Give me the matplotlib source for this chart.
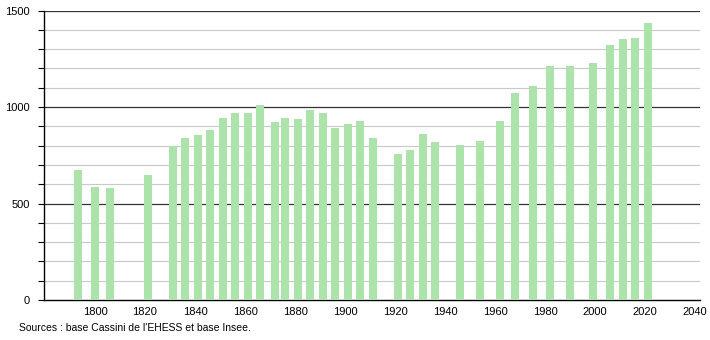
import matplotlib
matplotlib.use("Agg")
import matplotlib.pyplot as plt

plt.rcParams['font.family'] = ['Liberation Sans', 'DejaVu Sans']

years = [1793, 1800, 1806, 1821, 1831, 1836, 1841, 1846, 1851, 1856, 1861, 1866,
         1872, 1876, 1881, 1886, 1891, 1896, 1901, 1906, 1911, 1921, 1926, 1931,
         1936, 1946, 1954, 1962, 1968, 1975, 1982, 1990, 1999, 2006, 2011, 2016, 2021]
population = [673, 586, 579, 647, 798, 840, 853, 880, 943, 967, 967, 1008,
              922, 944, 936, 984, 967, 890, 911, 927, 839, 756, 777, 860,
              818, 803, 824, 929, 1072, 1111, 1212, 1212, 1226, 1320, 1352, 1357, 1433]
xticks = [1800, 1820, 1840, 1860, 1880, 1900, 1920, 1940, 1960, 1980, 2000, 2020, 2040]
yticks = [0, 500, 1000, 1500]

fig = plt.figure(figsize=(7.1, 3.4), dpi=100)
ax = fig.add_axes([0.062, 0.1176, 0.924, 0.8515])

ax.bar(years, population, width=3.2, color='#abe3ab', zorder=3)

# grid lines: light every 100, dark every 500
for v in range(100, 1501, 100):
    if v % 500 == 0:
        ax.axhline(v, color='#333333', lw=0.9, zorder=1)
    else:
        ax.axhline(v, color='#c8c8c8', lw=0.8, zorder=1)

ax.set_xlim(1779.6, 2042)
ax.set_ylim(0, 1500)
ax.set_xticks(xticks)
ax.set_yticks(yticks)
ax.set_yticks(range(0, 1501, 100), minor=True)
ax.tick_params(axis='x', length=0, labelsize=8, pad=5)
ax.tick_params(axis='y', which='both', length=4, width=0.8, labelsize=8, pad=6)

for s in ['top', 'right']:
    ax.spines[s].set_visible(False)
ax.spines['left'].set_linewidth(1.0)
ax.spines['bottom'].set_linewidth(1.0)

fig.text(0.027, 0.027, "Sources : base Cassini de l'EHESS et base Insee.", fontsize=7.5)

fig.savefig("out.png", dpi=100)
